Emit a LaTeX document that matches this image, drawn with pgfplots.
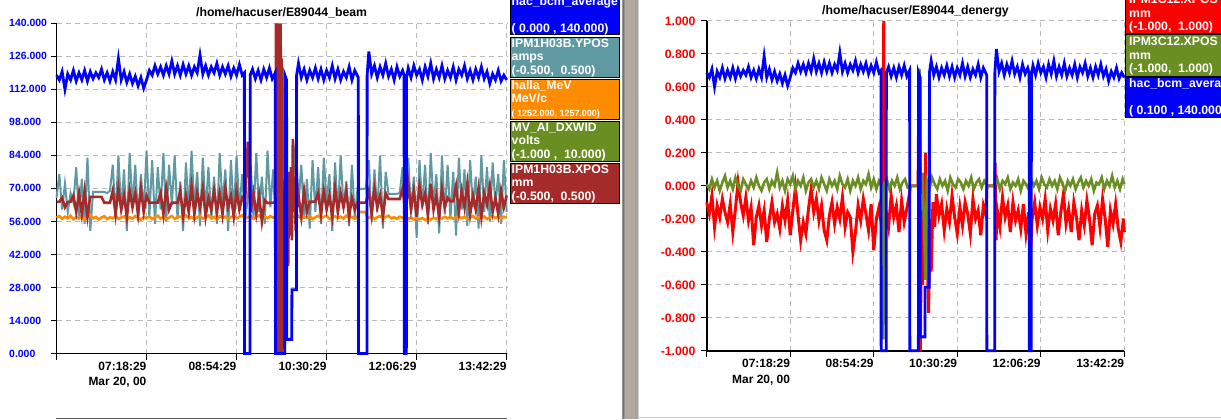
\documentclass[border=0pt]{standalone}
\usepackage{fontspec}
\setmainfont{Liberation Sans}
\usepackage{pgfplots}
\pgfplotsset{compat=1.18}
\definecolor{cadet}{HTML}{5F9AA3}
\definecolor{dorange}{HTML}{FF8C00}
\definecolor{olived}{HTML}{6B8E23}
\definecolor{brownx}{HTML}{A52A2A}
\definecolor{sepmid}{RGB}{178,168,160}
\pgfplotsset{
  stripax/.style={
    scale only axis, xmin=0, xmax=480,
    axis x line*=bottom, axis y line*=left,
    axis line style={line width=1.8bp, black, -},
    tick align=outside, major tick length=6bp,
    tick style={black, line width=1bp},
    xtick={0,96,192,288,384,480},
    xticklabels={{},{07:18:29\\Mar 20, 00},{08:54:29},{10:30:29},{12:06:29},{13:42:29}},
    xticklabel style={anchor=north east, align=right, inner sep=0pt, yshift=-2bp,
      font=\fontsize{12}{16}\selectfont\bfseries},
    grid=major,
    major grid style={dash pattern=on 5bp off 4bp, color=black!27, line width=0.9bp},
    clip=false,
    /pgf/number format/fixed, /pgf/number format/fixed zerofill,
    /pgf/number format/precision=3, /pgf/number format/assume math mode=true,
  }
}
\begin{document}
\begin{tikzpicture}[x=1bp,y=1bp]
\fill[white] (0,0) rectangle (1221,419);
\begin{scope}
\clip (0,0) rectangle (1221,419);

% ---------------- left chart ----------------
\begin{axis}[stripax,
  at={(56.5bp,65.5bp)}, anchor=south west, width=450.2bp, height=330.2bp,
  ymin=0, ymax=140, ytick={0,14,...,140},
  yticklabel style={anchor=west, inner sep=0pt, xshift=-41.5bp, text=blue,
    font=\fontsize{10.5}{12}\selectfont\bfseries},
]
\addplot[cadet, line width=2bp] coordinates {(0,66)(3,76)(6,61)(9,72)(12,60)(15,68)(18,64)(21,79)(24,58)(27,74)(30,55)(33,83)(36,52)(39,68.5)(42,68.5)(45,68.5)(48,68.5)(51,68.5)(54,68)(57,69)(60,80)(63,57)(66,84)(69,60)(72,78)(75,52)(78,85)(81,62)(84,80)(87,56)(90,76)(93,60)(96,86)(99,58)(102,82)(105,55)(108,79)(111,61)(114,85)(117,56)(120,80)(123,63)(126,84)(129,57)(132,73)(135,52)(138,81)(141,60)(144,86)(147,62)(150,77)(153,54)(156,83)(159,60)(162,79)(165,57)(168,75)(171,55)(174,85)(177,63)(180,78)(183,52)(186,82)(189,59)(192,84)(195,61)(198,76)(201,56)(204,66)(207,80)(210,58)(213,85)(216,60)(219,75)(222,55)(225,86)(228,62)(231,78)(234,52)(237,70)(239,4)(241,62)(243,74)(246,56)(249,65)(252,72)(255,90)(258,63)(261,80)(264,57)(267,74)(270,53)(273,82)(276,60)(279,79)(282,55)(285,83)(288,64)(291,76)(294,52)(297,81)(300,59)(303,84)(306,62)(309,73)(312,54)(315,80)(318,58)(321,70)(324,69.8)(327,69.8)(330,70)(333,82)(336,56)(339,78)(342,60)(345,84)(348,53)(351,77)(354,67.7)(357,67.7)(360,67.7)(363,67.7)(366,68)(369,79)(372,57)(375,83)(378,60)(381,75)(384,49)(387,82)(390,62)(393,80)(396,55)(399,85)(402,63)(405,76)(408,51)(411,84)(414,59)(417,80)(420,57)(423,77)(426,50)(429,83)(432,61)(435,78)(438,54)(441,82)(444,62)(447,75)(450,53)(453,84)(456,60)(459,79)(462,56)(465,81)(468,63)(471,76)(474,55)(477,82)(480,60)};
\addplot[dorange, line width=2.6bp] coordinates {(0,57.6)(3,58.3)(6,57.1)(9,58.0)(12,57.4)(15,58.4)(18,56.9)(21,57.8)(24,57.2)(27,58.5)(30,57.0)(33,57.9)(36,58.8)(39,57.3)(42,57.9)(45,56.8)(48,57.7)(51,58.2)(54,57.0)(57,57.8)(60,57.3)(63,58.4)(66,57.1)(69,57.6)(72,58.1)(75,56.9)(78,57.8)(81,57.2)(84,58.3)(87,57.5)(90,56.8)(93,57.9)(96,57.3)(99,58.2)(102,57.0)(105,57.7)(108,58.4)(111,57.2)(114,57.9)(117,56.9)(120,57.6)(123,58.3)(126,57.1)(129,57.8)(132,58.0)(135,57.2)(138,58.6)(141,57.4)(144,57.9)(147,56.9)(150,57.7)(153,58.3)(156,57.2)(159,57.8)(162,58.5)(165,57.3)(168,57.9)(171,57.0)(174,58.2)(177,57.5)(180,58.0)(183,57.1)(186,57.8)(189,58.4)(192,57.3)(195,57.9)(198,58.6)(201,57.2)(204,57.8)(207,58.3)(210,57.1)(213,57.9)(216,58.5)(219,57.3)(222,58.0)(225,57.4)(228,58.2)(231,57.6)(234,58.0)(240,57.5)(246,58.6)(249,57.3)(252,58.1)(255,57.4)(258,58.3)(261,57.2)(264,58.0)(267,57.5)(270,58.2)(273,57.0)(276,57.8)(279,58.4)(282,57.3)(285,57.9)(288,58.5)(291,57.1)(294,57.7)(297,58.2)(300,57.4)(303,58.0)(306,57.2)(309,58.4)(312,57.6)(315,57.9)(318,57.1)(321,58.0)(322,60)(330,60)(331,58.0)(333,57.4)(336,58.2)(339,57.0)(342,57.8)(345,58.3)(348,57.2)(351,57.9)(354,58.4)(357,57.3)(360,57.8)(363,57.1)(366,58.0)(369,57.5)(372,58.2)(375,57.0)(378,57.6)(381,56.8)(384,57.5)(387,56.9)(390,57.4)(393,56.6)(396,57.3)(399,56.8)(402,57.6)(405,57.0)(408,57.8)(411,57.2)(414,58.0)(417,57.3)(420,57.9)(423,57.1)(426,57.7)(429,58.2)(432,57.4)(435,57.9)(438,57.0)(441,57.6)(444,58.3)(447,57.2)(450,57.8)(453,57.4)(456,58.1)(459,57.0)(462,57.7)(465,58.3)(468,57.5)(471,57.9)(474,57.2)(477,58.0)(480,57.6)};
\addplot[brownx, line width=2.6bp] coordinates {(0,64.3)(3,64.3)(6,66)(9,62)(12,64.3)(15,64.3)(18,67)(21,60)(24,68)(27,59)(30,69)(33,58)(36,66.4)(39,66.4)(42,66.4)(45,66.4)(48,66.4)(51,63.9)(54,63.9)(57,63.9)(60,69)(63,59)(66,70)(69,61)(72,67)(75,58)(78,69)(81,62)(84,68)(87,59)(90,70)(93,60)(96,67)(99,63.9)(102,63.9)(105,63.9)(108,64)(111,68)(114,59)(117,70)(120,61)(123,63.9)(126,63.9)(129,63.9)(132,69)(135,58)(138,67)(141,60)(144,71)(147,59)(150,68)(153,62)(156,70)(159,58)(162,66)(165,61)(168,69)(171,60)(174,68)(177,59)(180,70)(183,62)(186,67)(189,58)(192,69)(195,61)(198,66)(201,64)(204,89.8)(207,60)(210,68)(213,59)(216,67)(219,56)(222,65)(225,63.8)(228,63.8)(231,64)(233.5,64)(234,140)(234.5,0)(235,140)(235.5,2)(236,138)(236.5,0)(237,140)(237.5,0)(238,135)(238.5,0)(239,140)(239.5,10)(240,125)(240.5,0)(241,70)(241.5,2)(242,66)(242.5,10)(243,68)(243.5,4)(244,70)(245,40)(246,68)(247,37)(248,77)(249,50)(250,79)(251,48)(252,91)(253,60)(254,75)(255,52)(256,81)(257,62)(258,67)(261,58)(264,69)(267,60)(270,64.4)(273,64.4)(276,64.4)(279,68)(282,59)(285,69)(288,61)(291,67)(294,58)(297,70)(300,60)(303,68)(306,62)(309,69)(312,58)(315,66)(318,61)(321,64)(324,64)(327,64)(330,64)(333,69)(336,59)(339,70)(342,62)(345,67)(348,58)(351,68)(354,65.5)(357,65.5)(360,65.5)(363,65.5)(366,65.5)(369,70)(372,60)(375,72)(378,61)(381,69)(384,58)(387,71)(390,63)(393,68)(396,59)(399,72)(402,61)(405,67)(408,58)(411,70)(414,62)(417,66)(420,64.5)(423,64.5)(426,71)(429,60)(432,69)(435,62)(438,72)(441,59)(444,67)(447,61)(450,70)(453,58)(456,68)(459,63)(462,71)(465,60)(468,66)(471,59)(474,69)(477,62)(480,67)};
\addplot[blue, line width=2.8bp] coordinates {(0,118)(3,116)(6,119.5)(9,112)(12,118.5)(15,116)(18,120)(21,115.5)(24,119)(27,116)(30,120)(33,115.5)(36,119.5)(39,116.5)(42,119)(45,117)(48,120.5)(51,116)(54,119)(57,115.5)(60,119.5)(63,116)(66,125)(69,116)(72,119.5)(75,115)(78,118.5)(81,114.5)(84,117.5)(87,113.5)(90,117)(93,112.5)(96,116)(99,120)(102,118)(105,122)(108,118.5)(111,121.5)(114,118)(117,122)(120,118.5)(123,124)(126,118.5)(129,122)(132,118)(135,122.5)(138,118.5)(141,122)(144,118)(147,121.5)(150,119)(153,126.5)(156,118.5)(159,122)(162,118)(165,121.5)(168,119)(171,123)(174,118)(177,121.5)(180,118.5)(183,122)(186,117.5)(189,121)(192,118)(195,122.5)(198,118)(200.3,119)(200.5,0)(206.3,0)(206.5,118)(209,120.5)(212,116.5)(215,120)(218,116)(221,120.5)(224,117)(227,121)(230,116.5)(233.2,119)(233.5,0)(243.3,0)(243.5,118)(245.3,116)(245.5,6)(250.8,6)(251,27)(255.8,27)(256,118)(258,123)(261,117)(264,120.5)(267,116)(270,120)(273,117)(276,121)(279,116.5)(282,120.5)(285,116)(288,120)(291,117)(294,122)(297,116.5)(300,120.5)(303,116)(306,119.5)(309,117)(312,121.5)(315,116)(318,120)(321.8,117)(322,0)(331,0)(331.2,118)(333,128)(336,118.5)(339,122)(342,117)(345,121.5)(348,118)(351,123)(354,117.5)(357,120.5)(360,116)(363,121.5)(366,117.5)(369,120)(370.6,118)(370.8,0)(373,0)(373.2,117)(375,121)(378,117)(381,122)(384,118)(387,120.5)(390,116)(393,121.5)(396,117.5)(399,123)(402,116.5)(405,120.5)(408,117)(411,122)(414,116.5)(417,120)(420,117)(423,121.5)(426,116)(429,120.5)(432,118)(435,122)(438,116.5)(441,120)(444,116)(447,120.5)(450,117)(453,121.5)(456,116.5)(459,119.5)(462,114.5)(465,118.5)(468,116)(471,120)(474,115.5)(477,118)(480,116)};
\end{axis}

% ---------------- right chart ----------------
\begin{axis}[stripax,
  at={(706.7bp,68.2bp)}, anchor=south west, width=417.6bp, height=330bp,
  ymin=-1, ymax=1, ytick={-1,-0.8,-0.6,-0.4,-0.2,0,0.2,0.4,0.6,0.8,1},
  yticklabel style={anchor=east, inner sep=0pt, xshift=-5bp, text=red,
    font=\fontsize{12.3}{14}\selectfont\bfseries},
]
\addplot[red, line width=3bp] coordinates {(0,-0.10)(3,-0.17)(6,-0.06)(9,-0.25)(12,-0.12)(15,-0.19)(18,-0.08)(21,-0.16)(24,-0.22)(27,-0.11)(30,-0.28)(33,-0.14)(36,0.02)(39,-0.10)(42,-0.18)(45,-0.07)(48,-0.21)(51,-0.13)(54,-0.36)(57,-0.19)(60,-0.12)(63,-0.24)(66,-0.15)(69,-0.34)(72,-0.20)(75,-0.10)(78,-0.22)(81,-0.17)(84,-0.26)(87,-0.12)(90,-0.21)(93,-0.09)(96,-0.30)(99,-0.15)(102,-0.01)(105,-0.18)(108,-0.33)(111,-0.22)(114,-0.29)(117,-0.14)(120,-0.02)(123,-0.16)(126,-0.08)(129,-0.21)(132,-0.12)(135,-0.27)(138,-0.33)(141,-0.18)(144,-0.10)(147,-0.23)(150,-0.13)(153,-0.20)(156,-0.07)(159,-0.25)(162,-0.16)(165,-0.19)(168,-0.40)(171,-0.28)(174,-0.12)(177,-0.21)(180,-0.08)(183,-0.17)(186,-0.27)(189,-0.11)(192,-0.39)(195,-0.20)(198,-0.13)(201,-0.24)(202.5,-0.10)(203.5,1.0)(204.5,-0.43)(206,-0.15)(209,-0.25)(212,-0.06)(215,-0.19)(218,-0.12)(221,-0.28)(224,-0.09)(227,-0.22)(230,-0.14)(233,-0.05)(234,0.0)(243,0.0)(244,0.69)(245.5,-1.0)(247,-0.15)(248,-0.6)(249,-0.1)(250,-0.45)(251.5,0.2)(253,-0.3)(255,-0.77)(256.5,-0.2)(258,-0.52)(260,-0.1)(262,-0.25)(264,-0.05)(267,-0.18)(270,-0.11)(273,-0.27)(276,-0.14)(279,-0.22)(282,-0.06)(285,-0.19)(288,-0.29)(291,-0.13)(294,-0.24)(297,-0.1)(300,-0.17)(303,-0.29)(306,-0.08)(309,-0.2)(312,-0.15)(315,-0.3)(318,-0.12)(321,-0.18)(322,0.0)(331,0.0)(331.5,0.14)(332.5,-0.33)(334,-0.15)(337,-0.25)(340,-0.07)(343,-0.19)(346,-0.12)(349,-0.28)(352,-0.1)(355,-0.21)(358,-0.15)(361,-0.26)(364,-0.11)(367,-0.29)(370,-0.16)(372,-0.42)(374,-0.2)(377,-0.1)(380,-0.24)(383,-0.13)(386,-0.2)(389,-0.08)(392,-0.27)(395,-0.14)(398,-0.21)(401,-0.11)(404,-0.3)(407,-0.16)(410,-0.05)(413,-0.23)(416,-0.14)(419,-0.28)(422,-0.1)(425,-0.19)(428,-0.33)(431,-0.15)(434,-0.24)(437,-0.09)(440,-0.2)(443,-0.36)(446,-0.17)(449,-0.12)(452,-0.25)(455,-0.08)(458,-0.2)(461,-0.37)(464,-0.15)(467,-0.23)(470,-0.11)(473,-0.26)(476,-0.34)(479,-0.2)(480,-0.28)};
\addplot[olived, line width=2.6bp] coordinates {(0,0.01)(3,-0.02)(6,0.04)(9,-0.01)(12,0.03)(15,-0.03)(18,0.02)(21,0.06)(24,-0.01)(27,0.03)(30,-0.02)(33,0.05)(36,0.00)(39,-0.03)(42,0.04)(45,0.01)(48,-0.02)(51,0.03)(54,-0.01)(57,0.05)(60,0.00)(63,-0.03)(66,0.02)(69,0.04)(72,-0.02)(75,0.03)(78,0.00)(81,0.08)(84,-0.01)(87,0.03)(90,-0.03)(93,0.04)(96,0.01)(99,0.06)(102,-0.02)(105,0.03)(108,0.00)(111,0.05)(114,-0.03)(117,0.02)(120,0.04)(123,-0.01)(126,0.03)(129,-0.02)(132,0.05)(135,0.01)(138,-0.03)(141,0.04)(144,0.00)(147,0.03)(150,-0.02)(153,0.06)(156,0.01)(159,-0.01)(162,0.04)(165,-0.03)(168,0.03)(171,0.00)(174,0.05)(177,-0.02)(180,0.03)(183,0.01)(186,0.07)(189,-0.01)(192,0.04)(195,-0.02)(198,0.03)(201,0.00)(203,-0.93)(204.5,0.02)(207,0.04)(210,-0.02)(213,0.03)(216,0.00)(219,0.05)(222,-0.02)(225,0.02)(228,0.04)(231,-0.01)(234,0.0)(243,0.0)(244.5,0.71)(246,-0.05)(248,0.08)(251.5,-0.57)(253,0.03)(256,-0.02)(259,0.05)(262,0.01)(265,-0.02)(268,0.04)(271,0.00)(274,0.03)(277,-0.03)(280,0.05)(283,0.01)(286,-0.01)(289,0.04)(292,0.02)(295,-0.02)(298,0.03)(301,0.00)(304,0.05)(307,-0.02)(310,0.02)(313,0.04)(316,-0.01)(319,0.03)(322,0.0)(331,0.0)(334,0.04)(337,-0.02)(340,0.03)(343,0.01)(346,0.05)(349,-0.02)(352,0.02)(355,0.00)(358,0.04)(361,-0.03)(364,0.03)(367,0.01)(370,-0.02)(373,0.04)(376,0.00)(379,0.03)(382,-0.02)(385,0.05)(388,0.01)(391,-0.01)(394,0.04)(397,0.00)(400,0.03)(403,-0.02)(406,0.05)(409,0.01)(412,-0.03)(415,0.03)(418,0.00)(421,0.04)(424,-0.02)(427,0.02)(430,0.05)(433,-0.01)(436,0.03)(439,0.00)(442,0.04)(445,-0.03)(448,0.02)(451,0.01)(454,0.05)(457,-0.02)(460,0.03)(463,0.00)(466,0.06)(469,-0.01)(472,0.03)(475,-0.02)(478,0.04)(480,0.01)};
\end{axis}
% blue on its own scale (0.1 .. 140) over the right chart
\begin{axis}[scale only axis, hide axis, clip=false,
  at={(706.7bp,68.2bp)}, anchor=south west, width=417.6bp, height=330bp,
  xmin=0, xmax=480, ymin=0.1, ymax=140]
\addplot[blue, line width=2.8bp] coordinates {(0,118)(3,116)(6,119.5)(9,112)(12,118.5)(15,116)(18,120)(21,115.5)(24,119)(27,116)(30,120)(33,115.5)(36,119.5)(39,116.5)(42,119)(45,117)(48,120.5)(51,116)(54,119)(57,115.5)(60,119.5)(63,116)(66,125)(69,116)(72,119.5)(75,115)(78,118.5)(81,114.5)(84,117.5)(87,113.5)(90,117)(93,112.5)(96,116)(99,120)(102,118)(105,122)(108,118.5)(111,121.5)(114,118)(117,122)(120,118.5)(123,124)(126,118.5)(129,122)(132,118)(135,122.5)(138,118.5)(141,122)(144,118)(147,121.5)(150,119)(153,126.5)(156,118.5)(159,122)(162,118)(165,121.5)(168,119)(171,123)(174,118)(177,121.5)(180,118.5)(183,122)(186,117.5)(189,121)(192,118)(195,122.5)(198,118)(200.3,119)(200.5,0.1)(206.3,0.1)(206.5,118)(209,120.5)(212,116.5)(215,120)(218,116)(221,120.5)(224,117)(227,121)(230,116.5)(233.2,119)(233.5,0.1)(243.3,0.1)(243.5,118)(245.3,116)(245.5,6)(250.8,6)(251,27)(255.8,27)(256,118)(258,123)(261,117)(264,120.5)(267,116)(270,120)(273,117)(276,121)(279,116.5)(282,120.5)(285,116)(288,120)(291,117)(294,122)(297,116.5)(300,120.5)(303,116)(306,119.5)(309,117)(312,121.5)(315,116)(318,120)(321.8,117)(322,0.1)(331,0.1)(331.2,118)(333,128)(336,118.5)(339,122)(342,117)(345,121.5)(348,118)(351,123)(354,117.5)(357,120.5)(360,116)(363,121.5)(366,117.5)(369,120)(370.6,118)(370.8,0.1)(373,0.1)(373.2,117)(375,121)(378,117)(381,122)(384,118)(387,120.5)(390,116)(393,121.5)(396,117.5)(399,123)(402,116.5)(405,120.5)(408,117)(411,122)(414,116.5)(417,120)(420,117)(423,121.5)(426,116)(429,120.5)(432,118)(435,122)(438,116.5)(441,120)(444,116)(447,120.5)(450,117)(453,121.5)(456,116.5)(459,119.5)(462,114.5)(465,118.5)(468,116)(471,120)(474,115.5)(477,118)(480,116)};
\end{axis}

% titles
\node[anchor=base, inner sep=0pt, font=\fontsize{12.3}{14}\selectfont\bfseries] at (281.6,402) {/home/hacuser/E89044\_beam};
\node[anchor=base, inner sep=0pt, font=\fontsize{12.3}{14}\selectfont\bfseries] at (915.5,404) {/home/hacuser/E89044\_denergy};

% separator
\fill[black!42] (621.5,0) rectangle (624.5,419);
\fill[sepmid] (624.5,0) rectangle (634.5,419);
\fill[black!36] (634.5,0) rectangle (637.8,419);
\fill[black!18] (637.8,0) rectangle (639.3,419);
\draw[black!55, line width=0.8bp] (623,0) -- (623,419);

% bottom rules
\draw[black!65, line width=1bp] (56,1) -- (507,1);
\draw[black!20, line width=1bp] (639.3,1.5) -- (1221,1.5);

% left legend boxes
\tikzset{lgt/.style={anchor=base west, inner sep=0pt, text=white, font=\fontsize{12.3}{14}\selectfont\bfseries}}
\filldraw[fill=blue, draw=black, line width=1bp] (510,424) rectangle (619.3,384);
\node[lgt] at (511.5,413.7) {hac\_bcm\_average};
\node[lgt] at (511.5,386.7) {( 0.000 , 140.000)};
\filldraw[fill=cadet, draw=black, line width=1bp] (510,381.7) rectangle (619.3,341.7);
\node[lgt] at (511.5,371.7) {IPM1H03B.YPOS};
\node[lgt] at (511.5,358.5) {amps};
\node[lgt] at (511.5,344.7) {(-0.500,\ \ 0.500)};
\filldraw[fill=dorange, draw=black, line width=1bp] (510,339.7) rectangle (619.3,299.7);
\node[lgt] at (511.5,329.7) {halla\_MeV};
\node[lgt] at (511.5,316.5) {MeV/c};
\node[lgt, font=\fontsize{9}{10}\selectfont\bfseries] at (511.5,302.7) {( 1252.000, 1257.000)};
\filldraw[fill=olived, draw=black, line width=1bp] (510,297.7) rectangle (619.3,257.7);
\node[lgt] at (511.5,287.7) {MV\_AI\_DXWID};
\node[lgt] at (511.5,274.5) {volts};
\node[lgt] at (511.5,260.7) {(-1.000 ,\ \ 10.000)};
\filldraw[fill=brownx, draw=black, line width=1bp] (510,255.7) rectangle (619.3,215.7);
\node[lgt] at (511.5,245.7) {IPM1H03B.XPOS};
\node[lgt] at (511.5,232.5) {mm};
\node[lgt] at (511.5,218.7) {(-0.500,\ \ 0.500)};

% right legend boxes
\filldraw[fill=red, draw=black, line width=1bp] (1125,426) rectangle (1235,385.7);
\node[lgt] at (1129,415.2) {IPM1C12.XPOS};
\node[lgt] at (1129,401.7) {mm};
\node[lgt] at (1129,388.2) {(-1.000,\ \ 1.000)};
\filldraw[fill=olived, draw=black, line width=1bp] (1125,384) rectangle (1235,343);
\node[lgt] at (1129,373.2) {IPM3C12.XPOS};
\node[lgt] at (1129,359.7) {mm};
\node[lgt] at (1129,346.2) {(-1.000,\ \ 1.000)};
\filldraw[fill=blue, draw=black, line width=1bp] (1125,341.7) rectangle (1235,301.7);
\node[lgt] at (1129,331.7) {hac\_bcm\_average};
\node[lgt] at (1129,304.7) {( 0.100 , 140.000)};
\end{scope}
\pgfresetboundingbox
\useasboundingbox (0,0) rectangle (1221,419);
\end{tikzpicture}
\end{document}
